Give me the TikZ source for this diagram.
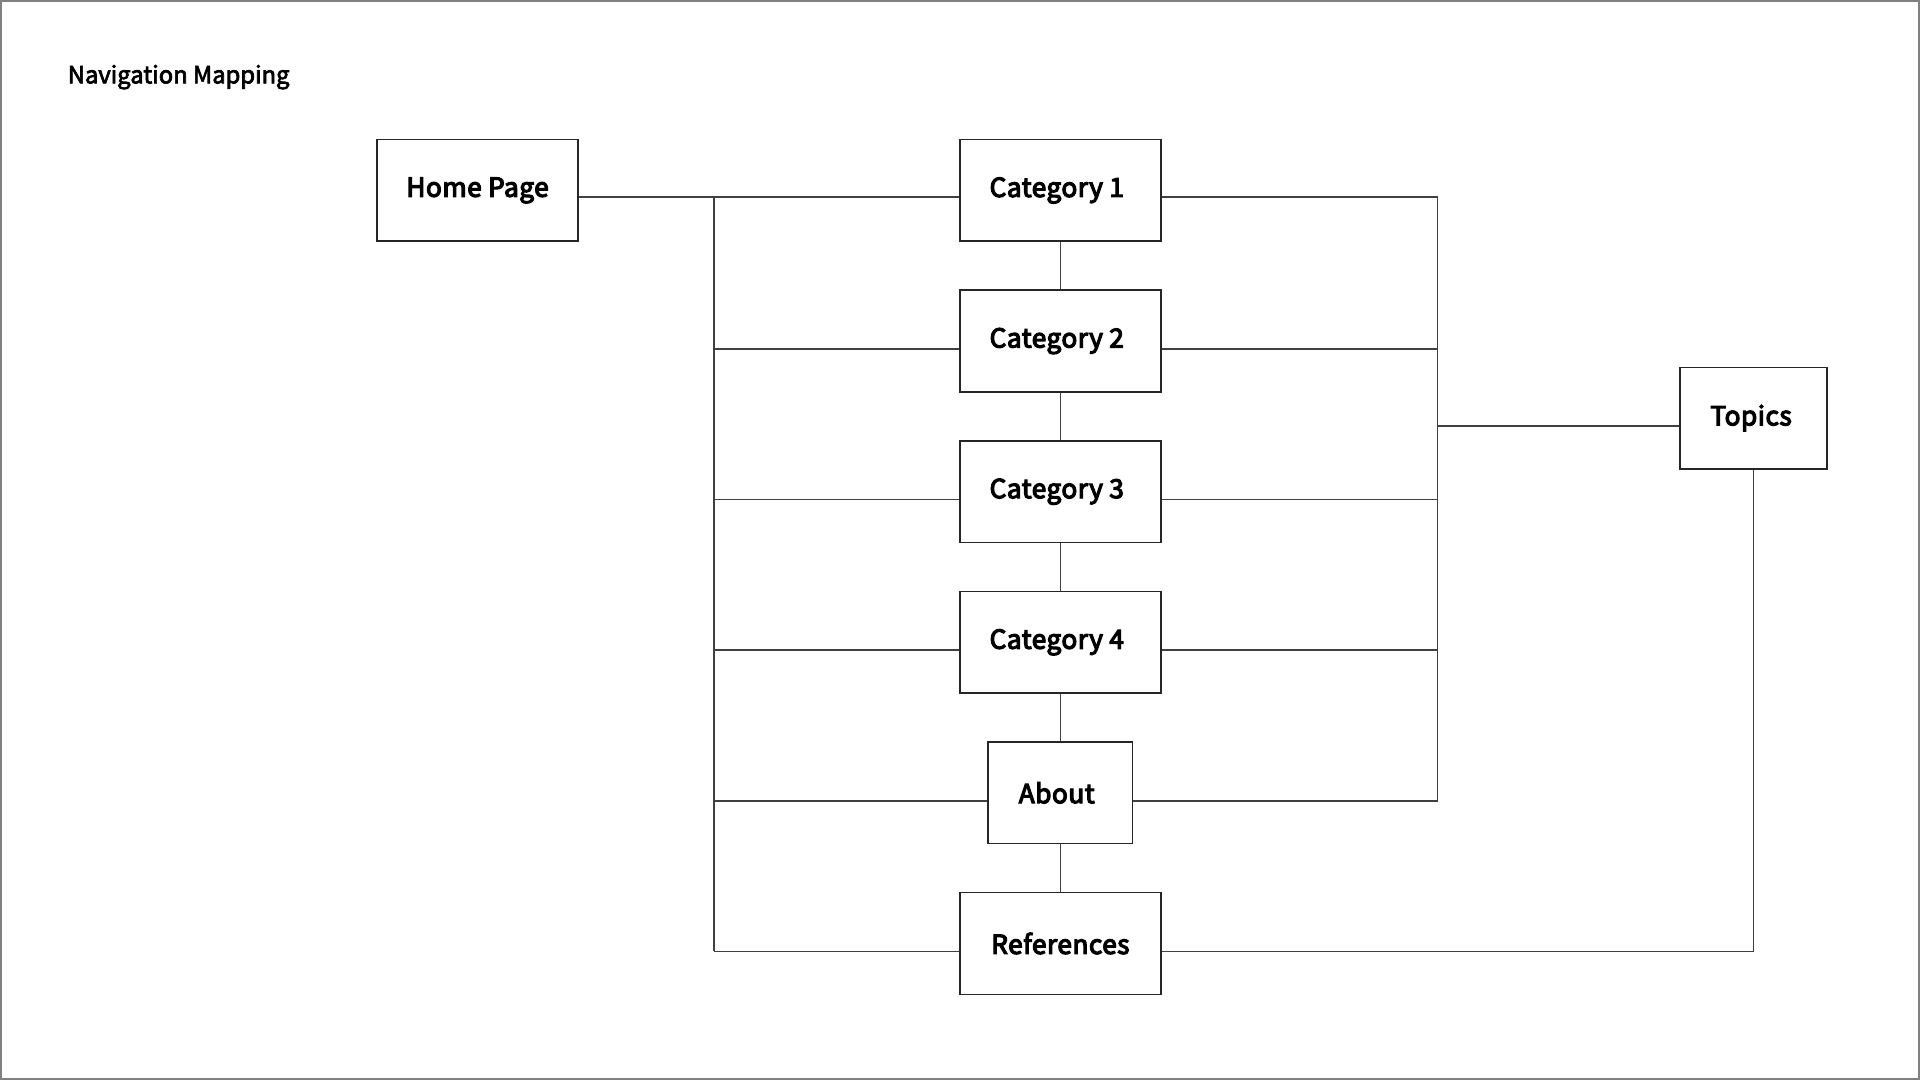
\documentclass[tikz,border=0pt]{standalone}
\usepackage{fontspec}
\setmainfont{Noto Sans CJK JP}
\newfontfamily\titlefont{Noto Sans CJK JP}[FakeBold=3]
\newfontfamily\labelfont{Noto Sans CJK JP}[FakeBold=4.5,LetterSpace=2]
\begin{document}
\begin{tikzpicture}[x=0.5pt,y=-0.5pt,
  box/.style={draw=black!85,line width=0.6pt,minimum width=82pt,minimum height=41.5pt,inner sep=0pt,font=\labelfont\fontsize{10.7pt}{12pt}\selectfont,text=black},
  link/.style={draw=black!75,line width=0.6pt}]
\useasboundingbox (0,0) rectangle (1568,882);
\draw[black!50,line width=0.8pt] (0.5,0.5) rectangle (1567.5,881.5);
\node[anchor=west,inner sep=0pt,font=\titlefont\fontsize{9.7pt}{11pt}\selectfont] (title) at (55,63) {Navigation Mapping};
\node[box] (home) at (390,155.5) {Home Page};
\node[box] (c1) at (866,155.5) {Category 1\hspace*{3pt}};
\node[box] (c2) at (866,278.5) {Category 2\hspace*{3pt}};
\node[box] (c3) at (866,401.5) {Category 3\hspace*{3pt}};
\node[box] (c4) at (866,524.5) {Category 4\hspace*{3pt}};
\node[box,minimum width=59pt] (about) at (866,647.5) {About\hspace*{3pt}};
\node[box] (ref) at (866,770.5) {References};
\node[box,minimum width=60pt] (topics) at (1432,341.5) {Topics\hspace*{2pt}};
\coordinate (L1) at (583,161);
\coordinate (L2) at (583,285);
\coordinate (L3) at (583,408);
\coordinate (L4) at (583,531);
\coordinate (L5) at (583,654);
\coordinate (L6) at (583,777);
\coordinate (R1) at (1174,161);
\coordinate (R2) at (1174,285);
\coordinate (R3) at (1174,408);
\coordinate (R4) at (1174,531);
\coordinate (R5) at (1174,654);
\coordinate (RT) at (1174,348);
\draw[link] (home.east |- L1) -- (c1.west |- L1);
\draw[link] (L1) -- (L6);
\draw[link] (L2) -- (c2.west |- L2);
\draw[link] (L3) -- (c3.west |- L3);
\draw[link] (L4) -- (c4.west |- L4);
\draw[link] (L5) -- (about.west |- L5);
\draw[link] (L6) -- (ref.west |- L6);
\draw[link] (c1.east |- R1) -- (R1);
\draw[link] (c2.east |- R2) -- (R2);
\draw[link] (c3.east |- R3) -- (R3);
\draw[link] (c4.east |- R4) -- (R4);
\draw[link] (about.east |- R5) -- (R5);
\draw[link] (R1) -- (R5);
\draw[link] (RT) -- (topics.west |- RT);
\draw[link] (topics.south) -- (topics.south |- L6) -- (ref.east |- L6);
\draw[link] (c1.south) -- (c2.north);
\draw[link] (c2.south) -- (c3.north);
\draw[link] (c3.south) -- (c4.north);
\draw[link] (c4.south) -- (about.north);
\draw[link] (about.south) -- (ref.north);
\end{tikzpicture}
\end{document}
